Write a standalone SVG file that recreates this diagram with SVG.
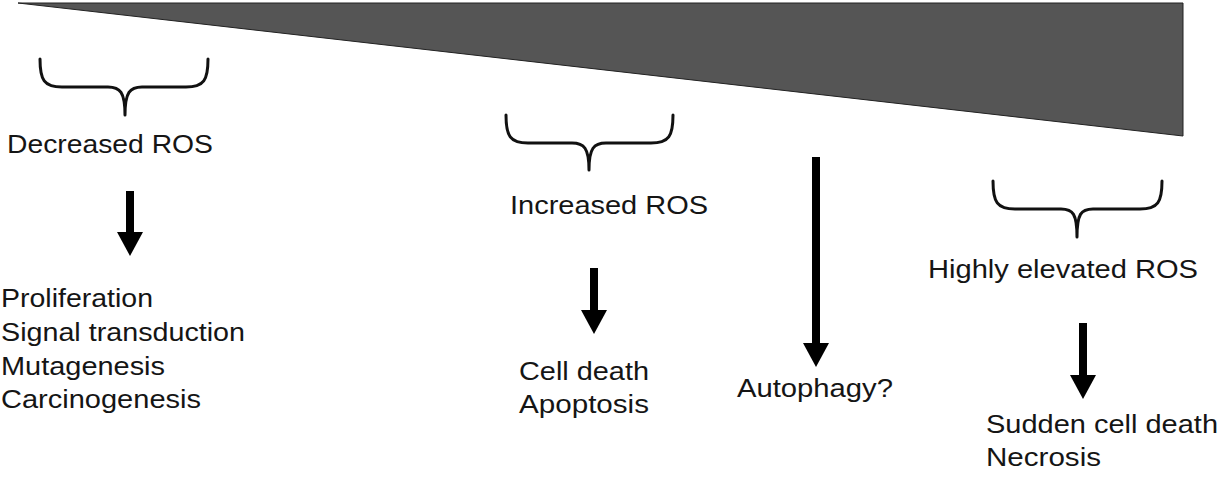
<svg xmlns="http://www.w3.org/2000/svg" width="1219" height="483" viewBox="0 0 1219 483">
<defs>
<style>
.t{font-family:"Liberation Sans",Arial,sans-serif;font-size:26px;fill:#151515;}
.brace{fill:none;stroke:#111;stroke-width:3;stroke-linecap:round;}
.shaft{stroke:#000;stroke-width:8;fill:none;}
</style>
<marker id="ah" markerUnits="userSpaceOnUse" viewBox="0 0 24 26" markerWidth="24" markerHeight="26" refX="0" refY="13" orient="auto">
<path d="M0,0 L24,13 L0,26 z" fill="#000"/>
</marker>
</defs>
<rect width="1219" height="483" fill="#fff"/>
<g id="wedge"><polygon points="18,3 1183,3 1183,136" fill="#555" stroke="#222" stroke-width="1"/></g>
<g id="decreased">
<path class="brace" d="M40,59 C40,80 44,87 62,87 L108,87 C120,87 125,92 125,115 M208,59 C208,80 204,87 186,87 L142,87 C130,87 125,92 125,115"/>
<text class="t" x="7" y="153" textLength="206" lengthAdjust="spacingAndGlyphs">Decreased ROS</text>
</g>
<g id="decreased-effects">
<text class="t" x="1" y="307" textLength="152" lengthAdjust="spacingAndGlyphs">Proliferation</text>
<text class="t" x="1" y="341" textLength="244" lengthAdjust="spacingAndGlyphs">Signal transduction</text>
<text class="t" x="1" y="375" textLength="164" lengthAdjust="spacingAndGlyphs">Mutagenesis</text>
<text class="t" x="1" y="408" textLength="200" lengthAdjust="spacingAndGlyphs">Carcinogenesis</text>
</g>
<g id="increased">
<path class="brace" d="M506,115 C506,136 510,143 528,143 L572,143 C584,143 589,148 589,170 M673,115 C673,136 669,143 651,143 L606,143 C594,143 589,148 589,170"/>
<text class="t" x="510" y="214" textLength="198" lengthAdjust="spacingAndGlyphs">Increased ROS</text>
</g>
<g id="increased-effects">
<text class="t" x="519" y="380" textLength="130" lengthAdjust="spacingAndGlyphs">Cell death</text>
<text class="t" x="519" y="413" textLength="130" lengthAdjust="spacingAndGlyphs">Apoptosis</text>
</g>
<g id="autophagy">
<text class="t" x="737" y="397" textLength="156" lengthAdjust="spacingAndGlyphs">Autophagy?</text>
</g>
<g id="highly">
<path class="brace" d="M993,181 C993,202 997,209 1015,209 L1061,209 C1073,209 1077,214 1077,237 M1162,181 C1162,202 1158,209 1140,209 L1093,209 C1081,209 1077,214 1077,237"/>
<text class="t" x="928" y="278" textLength="270" lengthAdjust="spacingAndGlyphs">Highly elevated ROS</text>
</g>
<g id="highly-effects">
<text class="t" x="986" y="433" textLength="232" lengthAdjust="spacingAndGlyphs">Sudden cell death</text>
<text class="t" x="986" y="466" textLength="115" lengthAdjust="spacingAndGlyphs">Necrosis</text>
</g>
<g id="connectors">
<line class="shaft" x1="130" y1="191" x2="130" y2="232" marker-end="url(#ah)"/>
<line class="shaft" x1="594" y1="268" x2="594" y2="310" marker-end="url(#ah)"/>
<line class="shaft" x1="816" y1="157" x2="816" y2="343" marker-end="url(#ah)"/>
<line class="shaft" x1="1083" y1="323" x2="1083" y2="375" marker-end="url(#ah)"/>
</g>
</svg>
